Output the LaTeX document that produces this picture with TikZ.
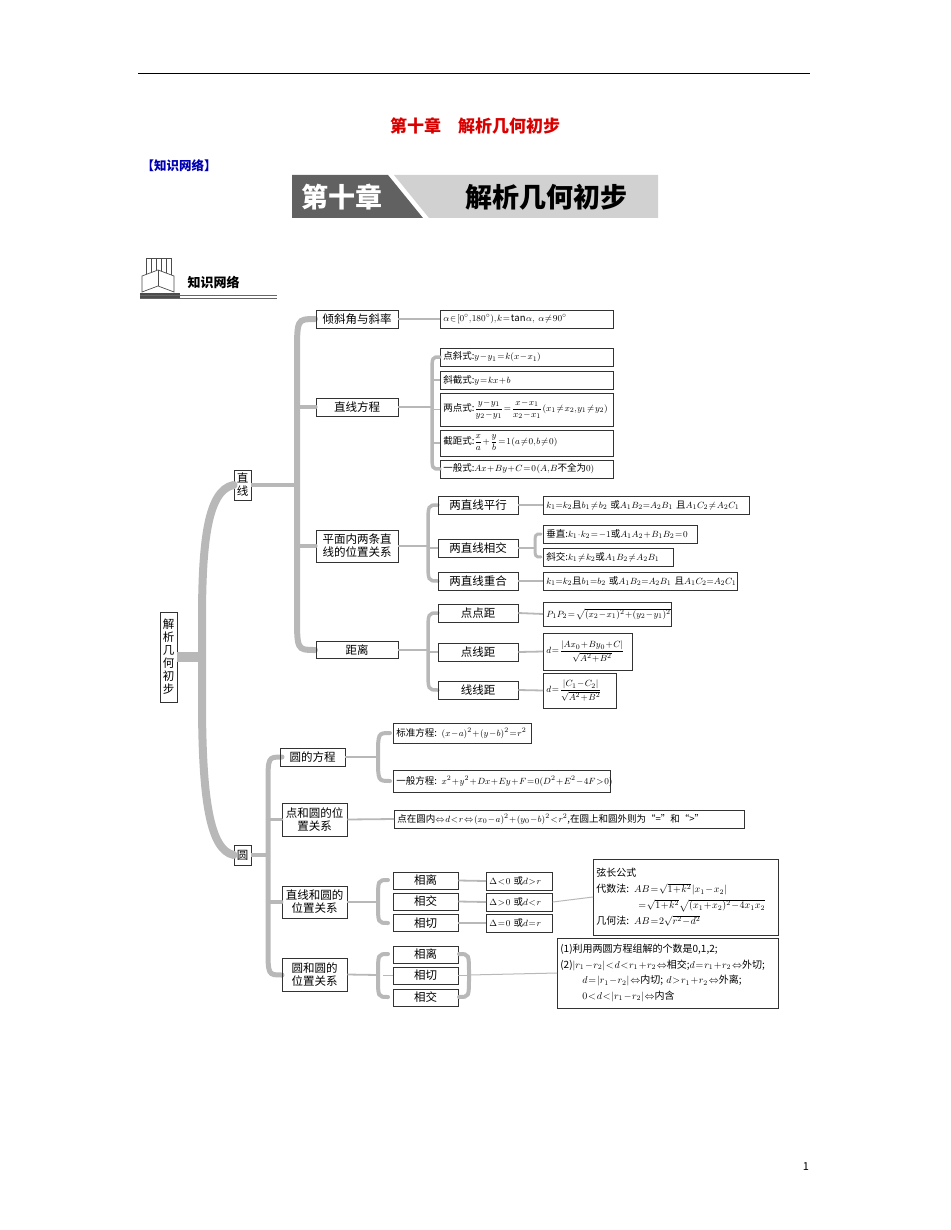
\documentclass[tikz,border=0pt]{standalone}
\usepackage{fontspec}
\setmainfont{Noto Sans CJK SC}
\usepackage{amsmath}
\begin{document}
\medmuskip=1mu\relax
\thickmuskip=1.5mu\relax
\thinmuskip=1mu\relax
\begin{tikzpicture}[x=1pt,y=-1pt,
  box/.style={draw=black!80,line width=0.7pt,inner sep=1pt,align=center,font=\fontsize{11.5}{13}\selectfont},
  leaf/.style={draw=black!80,line width=0.7pt,inner xsep=3pt,inner ysep=0pt,align=left,anchor=west,font=\fontsize{9.5}{12}\selectfont},
  conn/.style={draw=black!28,line width=1.8pt},
  brc/.style={draw=black!28,line cap=round}]
\useasboundingbox (0,0) rectangle (950,1230);
\newcommand\mybrace[5]{\draw[brc,line width=#4] (#1+#5,#2) .. controls (#1,#2) and (#1,#2) .. (#1,#2+2*#5) -- (#1,#3-2*#5) .. controls (#1,#3) and (#1,#3) .. (#1+#5,#3);}
\newcommand\myrbrace[5]{\draw[brc,line width=#4] (#1-#5,#2) .. controls (#1,#2) and (#1,#2) .. (#1,#2+2*#5) -- (#1,#3-2*#5) .. controls (#1,#3) and (#1,#3) .. (#1-#5,#3);}
% header
\draw[line width=0.8pt] (138,73) -- (810,73);
\node[text=red!85!black,font=\fontsize{17}{20}\selectfont\bfseries] (title) at (475,126) {第十章\quad 解析几何初步};
\node[text=blue!70!black,font=\fontsize{12.5}{14}\selectfont\bfseries,anchor=west] (zs) at (138,166) {【知识网络】};
\fill[black!62] (292,175) -- (388,175) -- (423,218) -- (292,218) -- cycle;
\fill[black!18] (394,175) -- (658,175) -- (658,218) -- (429,218) -- cycle;
\node[text=white,font=\fontsize{27}{30}\selectfont\bfseries] (b1) at (342,197) {第十章};
\node[font=\fontsize{27}{30}\selectfont\bfseries] (b2) at (546,197) {解析几何初步};
% icon
\foreach \i in {0,...,4}{\draw[black!70,line width=0.6pt] (146+\i*5,258) rectangle (151+\i*5,280);}
\draw[black!70,line width=0.7pt,fill=white] (142,276) -- (158,270) -- (174,276) -- (174,292) -- (158,286) -- (142,292) -- cycle;
\draw[black!70] (158,270) -- (158,286);
\fill[black!70] (140,293) rectangle (180,298);
\node[font=\fontsize{13}{15}\selectfont\bfseries,anchor=west] (zw) at (184,282) {知识网络};
\draw[black!60,line width=0.6pt] (140,295) -- (277,295);
\draw[black!60,line width=0.6pt] (140,298) -- (277,298);
% root & trunk
\node[box,minimum width=17pt,minimum height=90pt] (root) at (168.5,657) {解\\析\\几\\何\\初\\步};
\node[box,minimum width=17pt,minimum height=30pt] (zx) at (242.5,485) {直\\线};
\node[box,minimum width=17pt,minimum height=20pt] (yuan) at (242.5,855) {圆};
\draw[brc,line width=10pt,line cap=butt] (root.east) -- (202,657);
\draw[brc,line width=8pt] (zx.west) .. controls (208,490) and (202,540) .. (202,620) -- (202,700) .. controls (202,800) and (210,850) .. (yuan.west);
% 直线 branch
\draw[conn,line width=3.5pt] (zx.east) -- (297,485);
\mybrace{297}{319}{650}{6pt}{18}
\node[box,minimum width=82pt,minimum height=18pt] (qx) at (357,319) {倾斜角与斜率};
\node[box,minimum width=82pt,minimum height=18pt] (fc) at (357,407) {直线方程};
\node[box,minimum width=82pt,minimum height=32pt] (wz) at (357,546) {平面内两条直\\线的位置关系};
\node[box,minimum width=82pt,minimum height=17pt] (jl) at (357,650) {距离};
\foreach \n in {fc,wz}{\draw[brc,line width=4pt] (\n.west) -- ++(-18,0);}
\node[leaf,text width=167pt,minimum height=18pt] (qxl) at (440,319) {\mbox{$\alpha\in[0^\circ,180^\circ),k=\tan\alpha,\ \alpha\neq90^\circ$}};
\draw[conn] (qx.east) -- (qxl.west);
% 直线方程 leaves
\node[leaf,text width=167pt,minimum height=18pt] (f1) at (440,357) {\mbox{点斜式:$y-y_1=k(x-x_1)$}};
\node[leaf,text width=167pt,minimum height=18pt] (f2) at (440,380) {\mbox{斜截式:$y=kx+b$}};
\node[leaf,text width=167pt,minimum height=33pt] (f3) at (440,409.5) {\mbox{两点式:$\dfrac{y-y_1}{y_2-y_1}=\dfrac{x-x_1}{x_2-x_1}\,(x_1\neq x_2,y_1\neq y_2)$}};
\node[leaf,text width=167pt,minimum height=26pt] (f4) at (440,443) {\mbox{截距式:$\dfrac{x}{a}+\dfrac{y}{b}=1\,(a\neq0,b\neq0)$}};
\node[leaf,text width=167pt,minimum height=18pt] (f5) at (440,469) {\mbox{一般式:$Ax+By+C=0\,(A,B$不全为$0)$}};
\draw[conn] (fc.east) -- (432,407);
\mybrace{432}{357}{469}{3.5pt}{8}
\foreach \n in {f2,f3,f4}{\draw[conn] (\n.west) -- ++(-8,0);}
% 位置关系
\draw[conn] (wz.east) -- (428,546);
\mybrace{428}{505}{581}{3.5pt}{10}
\node[box,minimum width=80pt,minimum height=18pt] (px) at (478,505) {两直线平行};
\node[box,minimum width=80pt,minimum height=18pt] (xj) at (478,548) {两直线相交};
\node[box,minimum width=80pt,minimum height=18pt] (ch) at (478,581) {两直线重合};
\draw[conn] (xj.west) -- ++(-10,0);
\node[leaf,text width=200pt,minimum height=18pt] (pxl) at (543,505) {\mbox{$k_1{=}k_2$且$b_1\neq b_2$ 或$A_1B_2{=}A_2B_1$ 且$A_1C_2\neq A_2C_1$}};
\node[leaf,text width=148pt,minimum height=18pt] (cz) at (543,534) {\mbox{垂直:$k_1\cdot k_2=-1$或$A_1A_2+B_1B_2=0$}};
\node[leaf,text width=124pt,minimum height=18pt] (xjl) at (543,557) {\mbox{斜交:$k_1\neq k_2$或$A_1B_2\neq A_2B_1$}};
\node[leaf,text width=188pt,minimum height=18pt] (chl) at (543,581) {\mbox{$k_1{=}k_2$且$b_1{=}b_2$ 或$A_1B_2{=}A_2B_1$ 且$A_1C_2{=}A_2C_1$}};
\draw[conn] (px.east) -- (pxl.west);
\draw[conn] (ch.east) -- (chl.west);
\draw[conn] (xj.east) -- (535,548);
\mybrace{535}{534}{557}{3pt}{6}
% 距离
\draw[conn] (jl.east) -- (428,650);
\mybrace{428}{613}{690}{3.5pt}{10}
\node[box,minimum width=80pt,minimum height=18pt] (dd) at (478,613) {点点距};
\node[box,minimum width=80pt,minimum height=18pt] (dx) at (478,652) {点线距};
\node[box,minimum width=80pt,minimum height=18pt] (xx) at (478,690) {线线距};
\draw[conn] (dx.west) -- ++(-10,0);
\node[leaf,text width=122pt,minimum height=24pt] (ddl) at (543,614) {\mbox{$P_1P_2=\sqrt{(x_2-x_1)^2+(y_2-y_1)^2}$}};
\node[leaf,text width=83pt,minimum height=37pt] (dxl) at (543,651.5) {\mbox{$d=\dfrac{|Ax_0+By_0+C|}{\sqrt{A^2+B^2}}$}};
\node[leaf,text width=67pt,minimum height=35pt] (xxl) at (543,690.5) {\mbox{$d=\dfrac{|C_1-C_2|}{\sqrt{A^2+B^2}}$}};
\draw[conn] (dd.east) -- (ddl.west);
\draw[conn] (dx.east) -- (dxl.west);
\draw[conn] (xx.east) -- (xxl.west);
% 圆 branch
\draw[conn,line width=3.5pt] (yuan.east) -- (268,855);
\mybrace{268}{757}{975}{5pt}{14}
\node[box,minimum width=65pt,minimum height=18pt] (yf) at (312.5,757) {圆的方程};
\node[box,minimum width=65pt,minimum height=33pt] (dy) at (314.5,819.5) {点和圆的位\\置关系};
\node[box,minimum width=65pt,minimum height=32pt] (zy) at (314.5,902) {直线和圆的\\位置关系};
\node[box,minimum width=65pt,minimum height=33pt] (yy) at (314.5,974.5) {圆和圆的\\位置关系};
\foreach \n in {dy,zy}{\draw[brc,line width=3.5pt] (\n.west) -- ++(-14,0);}
\draw[conn] (yf.east) -- (378,757);
\mybrace{378}{733}{781}{4pt}{12}
\node[leaf,text width=132pt,minimum height=20pt] (bz) at (393,733) {\mbox{标准方程: $(x-a)^2+(y-b)^2=r^2$}};
\node[leaf,text width=211pt,minimum height=22pt] (yb) at (393,781) {\mbox{一般方程: $x^2+y^2+Dx+Ey+F=0(D^2+E^2-4F>0)$}};
\node[leaf,text width=344pt,minimum height=18pt] (dyl) at (394,819) {\mbox{点在圆内$\Leftrightarrow d<r\Leftrightarrow(x_0-a)^2+(y_0-b)^2<r^2$,在圆上和圆外则为“=”和“>”}};
\draw[conn] (dy.east) -- (dyl.west);
% 直线和圆
\draw[conn] (zy.east) -- (378,902);
\mybrace{378}{880}{923}{4pt}{10}
\node[box,minimum width=65pt,minimum height=17pt] (l1) at (425.5,880.5) {相离};
\node[box,minimum width=65pt,minimum height=17pt] (l2) at (425.5,901.5) {相交};
\node[box,minimum width=65pt,minimum height=17pt] (l3) at (425.5,923) {相切};
\node[leaf,text width=60pt,minimum height=18pt] (m1) at (486,881) {\mbox{$\Delta<0$ 或$d>r$}};
\node[leaf,text width=60pt,minimum height=18pt] (m2) at (486,902) {\mbox{$\Delta>0$ 或$d<r$}};
\node[leaf,text width=60pt,minimum height=18pt] (m3) at (486,923) {\mbox{$\Delta=0$ 或$d=r$}};
\draw[conn] (l1.east) -- (m1.west);
\draw[conn] (l2.east) -- (m2.west);
\draw[conn] (l3.east) -- (m3.west);
\node[leaf,text width=179pt,minimum height=76pt,font=\fontsize{10}{16}\selectfont] (xc) at (593,897) {弦长公式\\\mbox{代数法: $AB=\sqrt{1+k^2}\,|x_1-x_2|$}\\\mbox{\hspace*{42pt}$=\sqrt{1+k^2}\sqrt{(x_1+x_2)^2-4x_1x_2}$}\\\mbox{几何法: $AB=2\sqrt{r^2-d^2}$}};
\draw[conn,line width=1pt] (m2.east) -- (xc.west);
% 圆和圆
\node[box,minimum width=65pt,minimum height=17pt] (c1) at (425.5,954.5) {相离};
\node[box,minimum width=65pt,minimum height=17pt] (c2) at (425.5,975.5) {相切};
\node[box,minimum width=65pt,minimum height=17pt] (c3) at (425.5,997.5) {相交};
\draw[conn] (yy.east) -- (378,975);
\mybrace{378}{954}{997}{4pt}{10}
\myrbrace{469}{954}{997}{4pt}{10}
\draw[conn] (c2.west) -- ++(-10,0);
\draw[conn] (c2.east) -- ++(10,0);
\node[leaf,text width=215pt,minimum height=70pt,font=\fontsize{10}{15.5}\selectfont] (yyl) at (557,973) {\mbox{(1)利用两圆方程组解的个数是0,1,2;}\\\mbox{(2)$|r_1-r_2|<d<r_1+r_2\Leftrightarrow$相交;$d=r_1+r_2\Leftrightarrow$外切;}\\\mbox{\hspace*{22pt}$d=|r_1-r_2|\Leftrightarrow$内切; $d>r_1+r_2\Leftrightarrow$外离;}\\\mbox{\hspace*{22pt}$0<d<|r_1-r_2|\Leftrightarrow$内含}};
\draw[conn,line width=1pt] (469,975) -- (yyl.west);
\node[font=\fontsize{11}{13}\selectfont] (pg) at (806,1167) {1};
\end{tikzpicture}
\end{document}
